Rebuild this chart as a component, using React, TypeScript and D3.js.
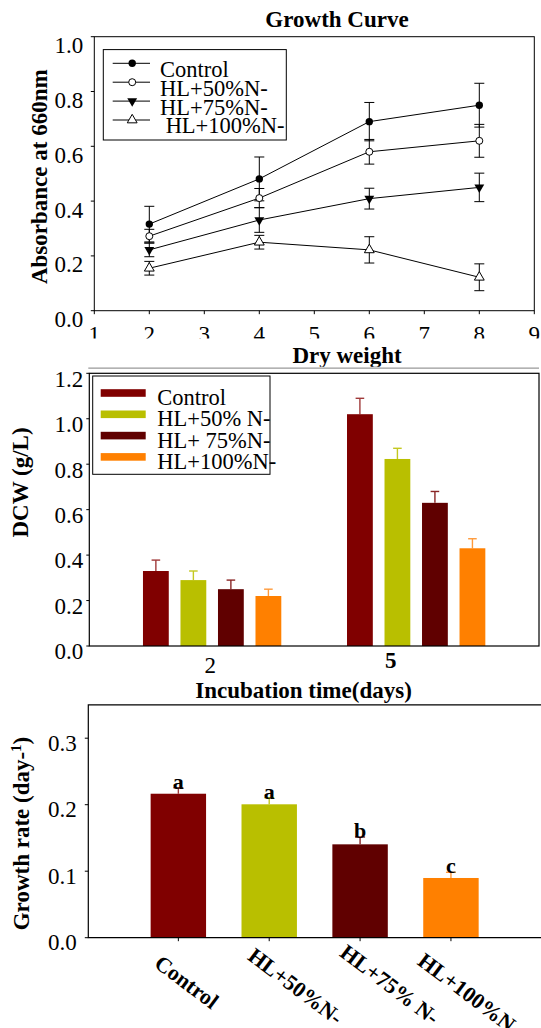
import React from "react";
import * as d3 from "d3";

// ---------- Panel 1: Growth curve ----------
const days = [2, 4, 6, 8];
const growthXTicks = [1, 2, 3, 4, 5, 6, 7, 8, 9];
const absTicks = [0, 0.2, 0.4, 0.6, 0.8, 1.0];
const growthLegend = ["Control", "HL+50%N-", "HL+75%N-", " HL+100%N-"];
const absControl = [0.316, 0.481, 0.69, 0.75];
const absHL50 = [0.272, 0.411, 0.58, 0.62];
const absHL75 = [0.222, 0.331, 0.409, 0.45];
const absHL100 = [0.155, 0.25, 0.222, 0.122];
const absErrControl = [0.065, 0.08, 0.07, 0.08];
const absErrHL50 = [0.025, 0.035, 0.045, 0.06];
const absErrHL75 = [0.025, 0.045, 0.038, 0.052];
const absErrHL100 = [0.025, 0.025, 0.048, 0.049];

// ---------- Panel 2: Dry weight ----------
const dcwDays = ["2", "5"];
const dcwLegend = ["Control", "HL+50% N-", "HL+ 75%N-", "HL+100%N-"];
const dcwTicks = [0, 0.2, 0.4, 0.6, 0.8, 1.0, 1.2];
const dcwControl = [0.33, 1.02];
const dcwHL50 = [0.29, 0.823];
const dcwHL75 = [0.25, 0.63];
const dcwHL100 = [0.22, 0.43];
const dcwErrControl = [0.048, 0.07];
const dcwErrHL50 = [0.04, 0.047];
const dcwErrHL75 = [0.04, 0.05];
const dcwErrHL100 = [0.03, 0.042];

// ---------- Panel 3: Growth rate ----------
const rateCategories = ["Control", "HL+50%N-", "HL+75% N-", "HL+100%N-"];
const rateValues = [0.2165, 0.2006, 0.1404, 0.0898];
const rateErrors = [0.009, 0.01, 0.011, 0.0085];
const rateLetters = ["a", "a", "b", "c"];
const rateTicks = [0, 0.1, 0.2, 0.3];

const barColors = ["#800000", "#b9bf00", "#600000", "#ff8000"];
const errColors = ["#a03a3a", "#c4c820", "#8a2626", "#ff9a3a"];
const FONT = "'Liberation Serif', 'Times New Roman', serif";

function fmt(v: number) {
  return v.toFixed(1);
}

function GrowthPanel() {
  const x = d3.scaleLinear().domain([1, 9]).range([94.3, 534.3]);
  const y = d3.scaleLinear().domain([0, 1]).range([310.7, 36.7]);
  const series = [
    { v: absControl, e: absErrControl, kind: "fcircle" },
    { v: absHL50, e: absErrHL50, kind: "ocircle" },
    { v: absHL75, e: absErrHL75, kind: "ftri" },
    { v: absHL100, e: absErrHL100, kind: "otri" },
  ];
  const line = d3
    .line<number>()
    .x((_, i) => x(days[i]))
    .y((d) => y(d));
  const tri = d3.symbol().type(d3.symbolTriangle).size(42)() as string;
  const marker = (kind: string, cx: number, cy: number, key: string) => {
    if (kind === "fcircle")
      return <circle key={key} cx={cx} cy={cy} r={3.7} fill="#000" />;
    if (kind === "ocircle")
      return <circle key={key} cx={cx} cy={cy} r={3.5} fill="#fff" stroke="#000" strokeWidth={1} />;
    if (kind === "ftri")
      return <path key={key} d={tri} transform={`translate(${cx},${cy}) rotate(180)`} fill="#000" />;
    return <path key={key} d={tri} transform={`translate(${cx},${cy})`} fill="#fff" stroke="#000" strokeWidth={1} />;
  };
  const [x0, x1] = x.range();
  const [yb, yt] = y.range();
  const legRowY = [63.3, 82.2, 101.1, 120];
  return (
    <g>
      <text x={337} y={26.7} textAnchor="middle" fontWeight="bold" fontSize={23} fontFamily={FONT}>
        Growth Curve
      </text>
      <rect x={x0} y={yt} width={x1 - x0} height={yb - yt} fill="none" stroke="#000" strokeWidth={1} />
      {absTicks.map((t) => (
        <g key={"yt" + t}>
          <line x1={x0 - 3.5} x2={x0} y1={y(t)} y2={y(t)} stroke="#000" />
          <text x={83.3} y={y(t) + 16.5} textAnchor="end" fontSize={23} fontFamily={FONT}>
            {fmt(t)}
          </text>
        </g>
      ))}
      {growthXTicks.map((t) => (
        <g key={"xt" + t}>
          <line x1={x(t)} x2={x(t)} y1={yb} y2={yb + 3.5} stroke="#000" />
          <text x={x(t)} y={342.2} textAnchor="middle" fontSize={23} fontFamily={FONT}>
            {t}
          </text>
        </g>
      ))}
      <text
        transform={`translate(46.5,176.7) rotate(-90)`}
        textAnchor="middle"
        fontWeight="bold"
        fontSize={23}
        fontFamily={FONT}
      >
        Absorbance at 660nm
      </text>
      {series.map((s, si) => (
        <path key={"l" + si} d={line(s.v) as string} fill="none" stroke="#000" strokeWidth={1} />
      ))}
      {series.map((s, si) =>
        s.v.map((v, i) => {
          const cx = x(days[i]);
          const top = y(v + s.e[i]);
          const bot = y(v - s.e[i]);
          return (
            <g key={`e${si}-${i}`} stroke="#000" strokeWidth={1}>
              <line x1={cx} x2={cx} y1={top} y2={bot} />
              <line x1={cx - 5} x2={cx + 5} y1={top} y2={top} />
              <line x1={cx - 5} x2={cx + 5} y1={bot} y2={bot} />
            </g>
          );
        })
      )}
      {series.map((s, si) => s.v.map((v, i) => marker(s.kind, x(days[i]), y(v), `m${si}-${i}`)))}
      {/* legend */}
      <rect x={103.3} y={49.6} width={183} height={90.4} fill="#fff" stroke="#000" strokeWidth={1} />
      {growthLegend.map((lab, i) => (
        <g key={"lg" + i}>
          <line x1={112.7} x2={150} y1={legRowY[i]} y2={legRowY[i]} stroke="#000" />
          {marker(series[i].kind, 132.2, legRowY[i], "lm" + i)}
          <text x={160} y={legRowY[i] + 13.4} fontSize={22.5} fontFamily={FONT} style={{ whiteSpace: "pre" }}>
            {lab}
          </text>
        </g>
      ))}
    </g>
  );
}

function DryWeightPanel() {
  const y = d3.scaleLinear().domain([0, 1.2]).range([646, 373.3]);
  const x0 = d3.scaleBand<string>().domain(dcwDays).range([89.3, 539]).paddingInner(0.3).paddingOuter(0.252);
  const x1 = d3
    .scaleBand<number>()
    .domain([0, 1, 2, 3])
    .range([0, x0.bandwidth()])
    .paddingInner(0.312)
    .paddingOuter(0.06);
  const vals = [dcwControl, dcwHL50, dcwHL75, dcwHL100];
  const errs = [dcwErrControl, dcwErrHL50, dcwErrHL75, dcwErrHL100];
  const [left, right] = x0.range();
  const [yb, yt] = y.range();
  const labelShift = [-2, -25.5];
  const labelBaseline = [673.3, 667.7];
  const legRowY = [393, 414.3, 435.6, 456.9];
  return (
    <g>
      {/* mask to clip panel-1 tick labels */}
      <rect x={0} y={338.5} width={541} height={35} fill="#fff" />
      <text x={347} y={363.3} textAnchor="middle" fontWeight="bold" fontSize={23} fontFamily={FONT}>
        Dry weight
      </text>
      <rect x={left - 1} y={366.8} width={right - left + 2} height={6} fill="#fff" />
      <line x1={left - 1} x2={right} y1={368.2} y2={368.2} stroke="#999" strokeWidth={1.2} />
      {dcwTicks.map((t) => (
        <g key={"yt" + t}>
          <line x1={left - 3} x2={left} y1={y(t)} y2={y(t)} stroke="#000" />
          <text x={83.3} y={y(t) + 13.3} textAnchor="end" fontSize={23} fontFamily={FONT}>
            {fmt(t)}
          </text>
        </g>
      ))}
      {dcwDays.map((d, gi) =>
        vals.map((series, si) => {
          const bx = (x0(d) as number) + (x1(si) as number);
          const bw = x1.bandwidth();
          const v = series[gi];
          const e = errs[si][gi];
          const cx = bx + bw / 2;
          return (
            <g key={`b${gi}-${si}`}>
              <line x1={cx} x2={cx} y1={y(v)} y2={y(v + e)} stroke={errColors[si]} strokeWidth={1.4} />
              <line x1={cx - 4.3} x2={cx + 4.3} y1={y(v + e)} y2={y(v + e)} stroke={errColors[si]} strokeWidth={1.4} />
              <rect x={bx} y={y(v)} width={bw} height={yb - y(v)} fill={barColors[si]} />
            </g>
          );
        })
      )}
      <rect x={left} y={yt} width={right - left} height={yb - yt} fill="none" stroke="#000" strokeWidth={1.2} />
      {dcwDays.map((d, gi) => (
        <text
          key={"xl" + d}
          x={(x0(d) as number) + x0.bandwidth() / 2 + labelShift[gi]}
          y={labelBaseline[gi]}
          textAnchor="middle"
          fontSize={23}
          fontWeight={gi === 1 ? "bold" : "normal"}
          fontFamily={FONT}
        >
          {d}
        </text>
      ))}
      <text x={303.5} y={697.5} textAnchor="middle" fontWeight="bold" fontSize={23} fontFamily={FONT}>
        Incubation time(days)
      </text>
      <text
        transform={`translate(27.5,482.5) rotate(-90)`}
        textAnchor="middle"
        fontWeight="bold"
        fontSize={23}
        fontFamily={FONT}
      >
        DCW (g/L)
      </text>
      {/* legend */}
      <rect x={92.7} y={376} width={177.3} height={98.3} fill="#fff" stroke="#000" strokeWidth={1} />
      {dcwLegend.map((lab, i) => (
        <g key={"lg" + i}>
          <rect x={100.7} y={legRowY[i] - 3.8} width={45} height={7.6} fill={barColors[i]} />
          <text x={157.3} y={legRowY[i] + 12} fontSize={22.5} fontFamily={FONT} style={{ whiteSpace: "pre" }}>
            {lab}
          </text>
        </g>
      ))}
    </g>
  );
}

function RatePanel() {
  const y = d3.scaleLinear().domain([0, 0.35]).range([937.7, 937.7 - 0.35 * 665]);
  const x = d3
    .scaleBand<string>()
    .domain(rateCategories)
    .range([88.3, 541])
    .paddingInner(0.39)
    .paddingOuter(0.686);
  const [left] = x.range();
  const [yb, yt] = y.range();
  const nudge = [
    [-25.3, 28.3],
    [-22.8, 21],
    [-21.5, 17.6],
    [-34.7, 26],
  ];
  return (
    <g>
      {rateTicks.map((t) => (
        <g key={"yt" + t}>
          <line x1={left - 3.5} x2={left} y1={y(t)} y2={y(t)} stroke="#000" />
          <text x={76.7} y={y(t) + 12.5} textAnchor="end" fontSize={23} fontFamily={FONT}>
            {fmt(t)}
          </text>
        </g>
      ))}
      {rateCategories.map((c, i) => {
        const bx = x(c) as number;
        const bw = x.bandwidth();
        const cx = bx + bw / 2;
        const v = rateValues[i];
        const e = rateErrors[i];
        return (
          <g key={"r" + i}>
            <line x1={cx} x2={cx} y1={y(v)} y2={y(v + e)} stroke={errColors[i]} strokeWidth={1.4} />
            <line x1={cx - 5} x2={cx + 5} y1={y(v + e)} y2={y(v + e)} stroke={errColors[i]} strokeWidth={1.4} />
            <rect x={bx} y={y(v)} width={bw} height={yb - y(v)} fill={barColors[i]} />
            <text x={cx} y={y(v + e) + 1} textAnchor="middle" fontWeight="bold" fontSize={22} fontFamily={FONT}>
              {rateLetters[i]}
            </text>
            <line x1={cx} x2={cx} y1={yb} y2={yb + 3.5} stroke="#000" />
            <text
              transform={`translate(${cx + nudge[i][0]},${yb + nudge[i][1]}) rotate(37)`}
              fontWeight="bold"
              fontSize={22}
              fontFamily={FONT}
              style={{ whiteSpace: "pre" }}
            >
              {c}
            </text>
          </g>
        );
      })}
      <polyline
        points={`545,${yt} ${left},${yt} ${left},${yb} 545,${yb}`}
        fill="none"
        stroke="#000"
        strokeWidth={1.2}
      />
      <text
        transform={`translate(29.3,833.5) rotate(-90)`}
        textAnchor="middle"
        fontWeight="bold"
        fontSize={23}
        fontFamily={FONT}
      >
        Growth rate (day-
        <tspan fontSize={15} dy={-8}>1</tspan>
        <tspan dy={8}>)</tspan>
      </text>
    </g>
  );
}

export default function App() {
  return (
    <svg
      width={541}
      height={1028}
      style={{ position: "absolute", left: 0, top: 0, background: "#fff" }}
      xmlns="http://www.w3.org/2000/svg"
    >
      <rect x={0} y={0} width={541} height={1028} fill="#fff" />
      <GrowthPanel />
      <DryWeightPanel />
      <RatePanel />
    </svg>
  );
}
